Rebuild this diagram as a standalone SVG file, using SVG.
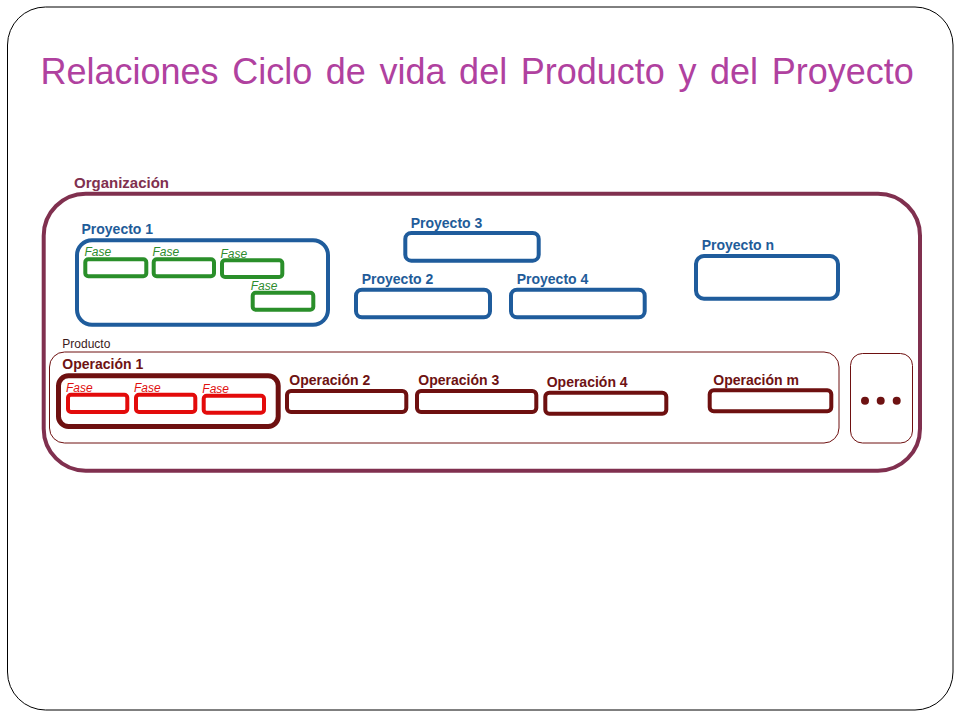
<svg xmlns="http://www.w3.org/2000/svg" width="960" height="720" viewBox="0 0 960 720">
<style>
text{font-family:"Liberation Sans",Arial,sans-serif}
.lbl{font-weight:bold;font-size:14px}
.pb{fill:#1F5C99}
.ob{fill:#6E1212}
.fase{font-style:italic;font-size:12px}
.fg{fill:#2E8B2E}
.fr{fill:#E01010}
.proj{fill:none;stroke:#1F5C9C;stroke-width:4}
.op{fill:none;stroke:#6E1010;stroke-width:4}
.gbox{fill:none;stroke:#2A8F2A;stroke-width:4}
.rbox{fill:none;stroke:#E30B0B;stroke-width:4}
.thin{fill:none;stroke:#6E1010;stroke-width:1}
</style>
<rect width="960" height="720" fill="#fff"/>
<rect id="frame" x="7.5" y="7" width="945.5" height="703" rx="38" fill="#fff" stroke="#000" stroke-width="1"/>
<text id="title" x="40.5" y="84" font-size="36" word-spacing="3.6" fill="#B0419F">Relaciones Ciclo de vida del Producto y del Proyecto</text>

<g id="organizacion">
<text class="lbl" x="74" y="187.5" font-size="15" style="font-size:15px" fill="#80304F">Organización</text>
<rect x="43.7" y="193.7" width="876.3" height="277" rx="42" fill="none" stroke="#80304F" stroke-width="4"/>
</g>

<g id="proyecto1">
<text class="lbl pb" x="81.5" y="234">Proyecto 1</text>
<rect class="proj" x="77" y="240.3" width="251" height="84.4" rx="15"/>
</g>
<g id="p1-fase1"><text class="fase fg" x="84.5" y="256">Fase</text><rect class="gbox" x="85.3" y="259.3" width="61" height="17" rx="3"/></g>
<g id="p1-fase2"><text class="fase fg" x="152.5" y="256">Fase</text><rect class="gbox" x="153.7" y="259.3" width="60.3" height="17" rx="3"/></g>
<g id="p1-fase3"><text class="fase fg" x="220.5" y="257.5">Fase</text><rect class="gbox" x="222" y="260.3" width="60.3" height="16.7" rx="3"/></g>
<g id="p1-fase4"><text class="fase fg" x="250.7" y="289.5">Fase</text><rect class="gbox" x="252.7" y="292.7" width="60.6" height="17" rx="3"/></g>

<g id="proyecto3"><text class="lbl pb" x="410.7" y="227.5">Proyecto 3</text><rect class="proj" x="405.3" y="233" width="133.4" height="27.7" rx="6"/></g>
<g id="proyecto2"><text class="lbl pb" x="361.7" y="284">Proyecto 2</text><rect class="proj" x="356" y="289.7" width="134" height="27.6" rx="6"/></g>
<g id="proyecto4"><text class="lbl pb" x="516.7" y="284">Proyecto 4</text><rect class="proj" x="511" y="289.7" width="133.7" height="27.6" rx="6"/></g>
<g id="proyecton"><text class="lbl pb" x="701.7" y="249.5">Proyecto n</text><rect class="proj" x="696" y="256" width="142" height="42.7" rx="8"/></g>

<g id="producto">
<text x="62.3" y="348.3" font-size="12" fill="#3a1a1a">Producto</text>
<rect class="thin" x="49.5" y="352" width="789.5" height="91" rx="15"/>
</g>

<g id="operacion1">
<text class="lbl ob" x="62.3" y="369">Operación 1</text>
<rect class="op" x="58.5" y="375.8" width="219.7" height="50.7" rx="10" style="stroke-width:5"/>
</g>
<g id="o1-fase1"><text class="fase fr" x="66" y="392">Fase</text><rect class="rbox" x="68" y="394.7" width="59.3" height="17.3" rx="3"/></g>
<g id="o1-fase2"><text class="fase fr" x="134" y="392">Fase</text><rect class="rbox" x="136" y="394.7" width="59.3" height="17.3" rx="3"/></g>
<g id="o1-fase3"><text class="fase fr" x="202.3" y="393.3">Fase</text><rect class="rbox" x="203.7" y="395.7" width="60.3" height="17" rx="3"/></g>

<g id="operacion2"><text class="lbl ob" x="289.3" y="385">Operación 2</text><rect class="op" x="287" y="391" width="119.3" height="21" rx="4"/></g>
<g id="operacion3"><text class="lbl ob" x="418.3" y="385">Operación 3</text><rect class="op" x="417" y="391" width="119.3" height="21" rx="4"/></g>
<g id="operacion4"><text class="lbl ob" x="546.7" y="386.5">Operación 4</text><rect class="op" x="545.3" y="392.7" width="121" height="21" rx="4"/></g>
<g id="operacionm"><text class="lbl ob" x="713.3" y="384.5">Operación m</text><rect class="op" x="709.7" y="390.3" width="121.6" height="21" rx="4"/></g>

<g id="mas">
<rect class="thin" x="850.5" y="353.5" width="62" height="89.5" rx="12"/>
<circle cx="865" cy="400.7" r="4" fill="#6E1212"/>
<circle cx="880.7" cy="400.7" r="4" fill="#6E1212"/>
<circle cx="896.7" cy="400.7" r="4" fill="#6E1212"/>
</g>

<g id="connectors"/>
</svg>
